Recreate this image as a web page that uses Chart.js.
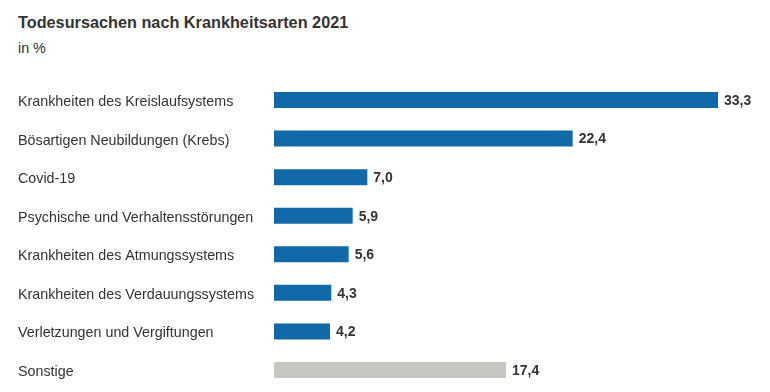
<!DOCTYPE html>
<html>
<head>
<meta charset="utf-8">
<script src="https://cdn.jsdelivr.net/npm/chart.js@4/dist/chart.umd.min.js"></script>
<style>
html,body{margin:0;padding:0;background:#fff;}
#wrap{position:relative;width:770px;height:392px;}
#title{position:absolute;left:18px;top:13px;font:bold 16.25px "Liberation Sans",Arial,sans-serif;color:#333;}
#sub{position:absolute;left:18px;top:40px;font:14.3px "Liberation Sans",Arial,sans-serif;color:#333;}
canvas{position:absolute;left:0;top:0;}
</style>
</head>
<body>
<div id="wrap">
<div id="title">Todesursachen nach Krankheitsarten 2021</div>
<div id="sub">in %</div>
<canvas id="c" width="770" height="392"></canvas>
</div>
<script>
const categories = [
  "Krankheiten des Kreislaufsystems",
  "Bösartigen Neubildungen (Krebs)",
  "Covid-19",
  "Psychische und Verhaltensstörungen",
  "Krankheiten des Atmungssystems",
  "Krankheiten des Verdauungssystems",
  "Verletzungen und Vergiftungen",
  "Sonstige"
];
const values = [33.3, 22.4, 7.0, 5.9, 5.6, 4.3, 4.2, 17.4];
const barColors = ["#1269a8","#1269a8","#1269a8","#1269a8","#1269a8","#1269a8","#1269a8","#c6c6c2"];

const FONT = '"Liberation Sans", Arial, sans-serif';

const labelsPlugin = {
  id: 'labelsPlugin',
  afterDatasetsDraw(chart) {
    const ctx = chart.ctx;
    const meta = chart.getDatasetMeta(0);
    const yScale = chart.scales.y;
    ctx.save();
    // category labels
    ctx.font = '14.3px ' + FONT;
    ctx.fillStyle = '#333';
    ctx.textAlign = 'left';
    ctx.textBaseline = 'middle';
    categories.forEach((c, i) => {
      ctx.fillText(c, yScale.left, yScale.getPixelForTick(i) + 2);
    });
    // value labels
    ctx.font = 'bold 14px ' + FONT;
    meta.data.forEach((bar, i) => {
      const txt = values[i].toFixed(1).replace('.', ',');
      ctx.fillText(txt, bar.x + 6, bar.y + 1);
    });
    ctx.restore();
  }
};

new Chart(document.getElementById('c'), {
  type: 'bar',
  data: {
    labels: categories,
    datasets: [{
      data: values,
      backgroundColor: barColors,
      borderWidth: 0,
      categoryPercentage: 1,
      barPercentage: 0.415
    }]
  },
  options: {
    indexAxis: 'y',
    responsive: false,
    animation: false,
    layout: { padding: { left: 18, right: 16, top: 80.7, bottom: 2.7 } },
    plugins: { legend: { display: false }, tooltip: { enabled: false } },
    scales: {
      x: { display: false, min: 0, max: 36 },
      y: {
        grid: { display: false },
        border: { display: false },
        afterFit(scale) { scale.width = 256; },
        ticks: { display: false }
      }
    }
  },
  plugins: [labelsPlugin]
});
</script>
</body>
</html>
